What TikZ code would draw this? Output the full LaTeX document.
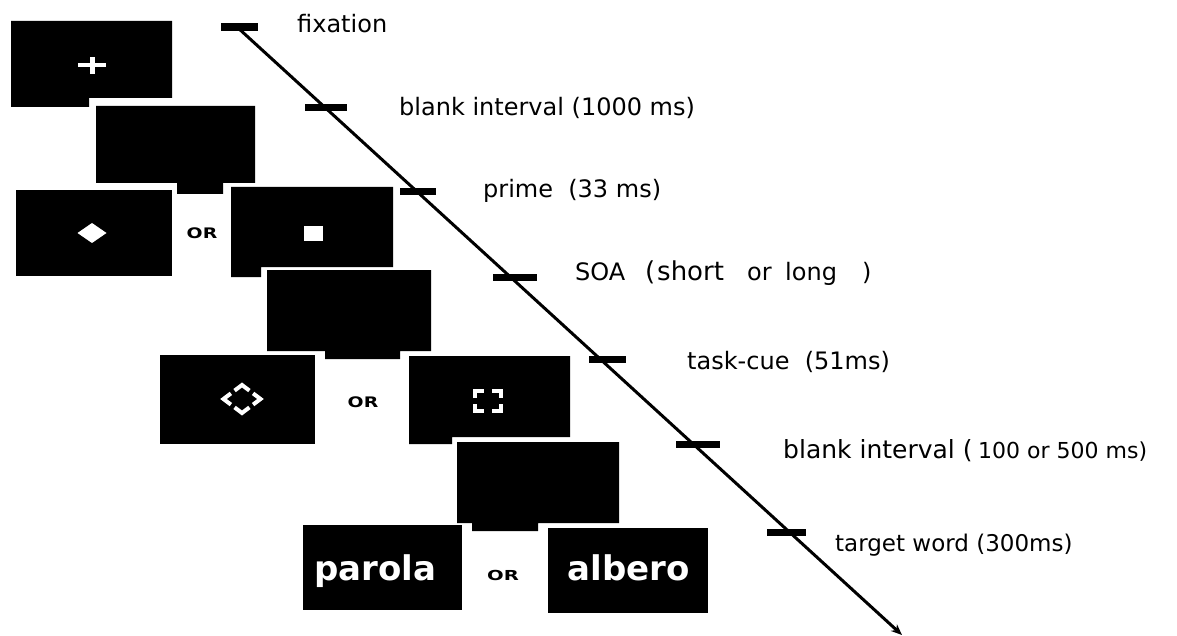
\documentclass[tikz,border=0pt]{standalone}
\usepackage{fontspec}
\usepackage{graphicx}
\setmainfont{DejaVu Sans}
\usetikzlibrary{arrows.meta,calc}
\begin{document}
\begin{tikzpicture}[x=1pt,y=-1pt,
  screen/.style={fill=black},
  symb/.style={draw=white,line width=4pt},
  tickmark/.style={line width=7pt},
  steplabel/.style={anchor=base west,inner sep=0pt,font=\fontsize{24}{28}\selectfont},
  orword/.style={inner sep=0pt,font=\bfseries\fontsize{14.5}{15}\selectfont},
  wordtext/.style={anchor=base,inner sep=0pt,text=white,font=\bfseries\fontsize{34}{38}\selectfont}]
\fill[white] (0,0) rectangle (1177,636);
\useasboundingbox (0,0) rectangle (1177,636);

% screens, drawn in the order they are shown
\fill[screen] (11,21) -- (172,21) -- (172,98) -- (89,98) -- (89,107) -- (11,107) -- cycle;
\fill[screen] (96,106) -- (255,106) -- (255,183) -- (223,183) -- (223,194) -- (177,194) -- (177,183) -- (96,183) -- cycle;
\fill[screen] (16,190) rectangle (172,276);
\fill[screen] (231,187) -- (393,187) -- (393,267) -- (261,267) -- (261,277) -- (231,277) -- cycle;
\fill[screen] (267,270) -- (431,270) -- (431,351) -- (400,351) -- (400,359) -- (325,359) -- (325,351) -- (267,351) -- cycle;
\fill[screen] (160,355) rectangle (315,444);
\fill[screen] (409,356) -- (570,356) -- (570,437) -- (452,437) -- (452,444) -- (409,444) -- cycle;
\fill[screen] (457,442) -- (619,442) -- (619,523) -- (538,523) -- (538,531) -- (472,531) -- (472,523) -- (457,523) -- cycle;
\fill[screen] (303,525) rectangle (462,610);
\fill[screen] (548,528) rectangle (708,613);

% fixation cross
\fill[white] (78,63) rectangle (106,67.5);
\fill[white] (89.5,57) rectangle (94.5,74);

% primes: diamond or square
\fill[white] (77.5,233) -- (92,223) -- (106.5,233) -- (92,243) -- cycle;
\fill[white] (304,226) rectangle (323,241);

% task cues: broken diamond or broken square
\coordinate (cT) at (242,385);
\coordinate (cR) at (260.5,399);
\coordinate (cB) at (242,413);
\coordinate (cL) at (223.5,399);
\foreach \a/\b/\c in {cT/cL/cR, cR/cT/cB, cB/cR/cL, cL/cB/cT}
  \draw[symb] ($(\a)!0.4!(\b)$) -- (\a) -- ($(\a)!0.4!(\c)$);
\draw[symb] (475,398) -- (475,391) -- (484,391);
\draw[symb] (492,391) -- (501,391) -- (501,398);
\draw[symb] (501,404) -- (501,411) -- (492,411);
\draw[symb] (484,411) -- (475,411) -- (475,404);

% target words
\node[wordtext] (w1) at (375,580) {parola};
\node[wordtext] (w2) at (629,580) {albero};

% OR between alternatives
\node[orword] (or1) at (202,233) {\scalebox{1.3}[1]{OR}};
\node[orword] (or2) at (363,402) {\scalebox{1.3}[1]{OR}};
\node[orword] (or3) at (503,575) {\scalebox{1.35}[0.95]{OR}};

% time line with event marks
\coordinate (tstart) at (237,27);
\coordinate (tend) at (902,635);
\draw[line width=3pt,-{Stealth[length=11pt,width=9pt]}] (tstart) -- (tend);
\draw[tickmark,line width=8pt] (221,27) -- (258,27);
\draw[tickmark] (305,108) -- (347,108);
\draw[tickmark] (400,192) -- (436,192);
\draw[tickmark] (493,277) -- (537,277);
\draw[tickmark] (589,359) -- (626,359);
\draw[tickmark] (676,444) -- (720,444);
\draw[tickmark] (767,532) -- (806,532);

% event labels
\node[steplabel] (l1) at (297,33) {fixation};
\node[steplabel] (l2) at (399,116) {blank interval (1000 ms)};
\node[steplabel] (l3) at (483,198) {prime~~(33 ms)};
\node[steplabel] (l4a) at (575,280) {SOA};
\node[steplabel,font=\fontsize{26}{28}\selectfont] (l4b) at (645,280) {(};
\node[steplabel,font=\fontsize{26}{28}\selectfont] (l4c) at (657,280) {short};
\node[steplabel] (l4d) at (747,280) {or};
\node[steplabel] (l4e) at (785,280) {long};
\node[steplabel] (l4f) at (862,280) {)};
\node[steplabel] (l5) at (687,369) {task-cue~~(51ms)};
\node[steplabel,font=\fontsize{25}{28}\selectfont] (l6a) at (783,458) {blank interval (};
\node[steplabel,font=\fontsize{22}{26}\selectfont] (l6b) at (978,458) {100 or 500 ms)};
\node[steplabel,font=\fontsize{23}{26}\selectfont] (l7) at (835,551) {target word (300ms)};
\end{tikzpicture}
\end{document}
